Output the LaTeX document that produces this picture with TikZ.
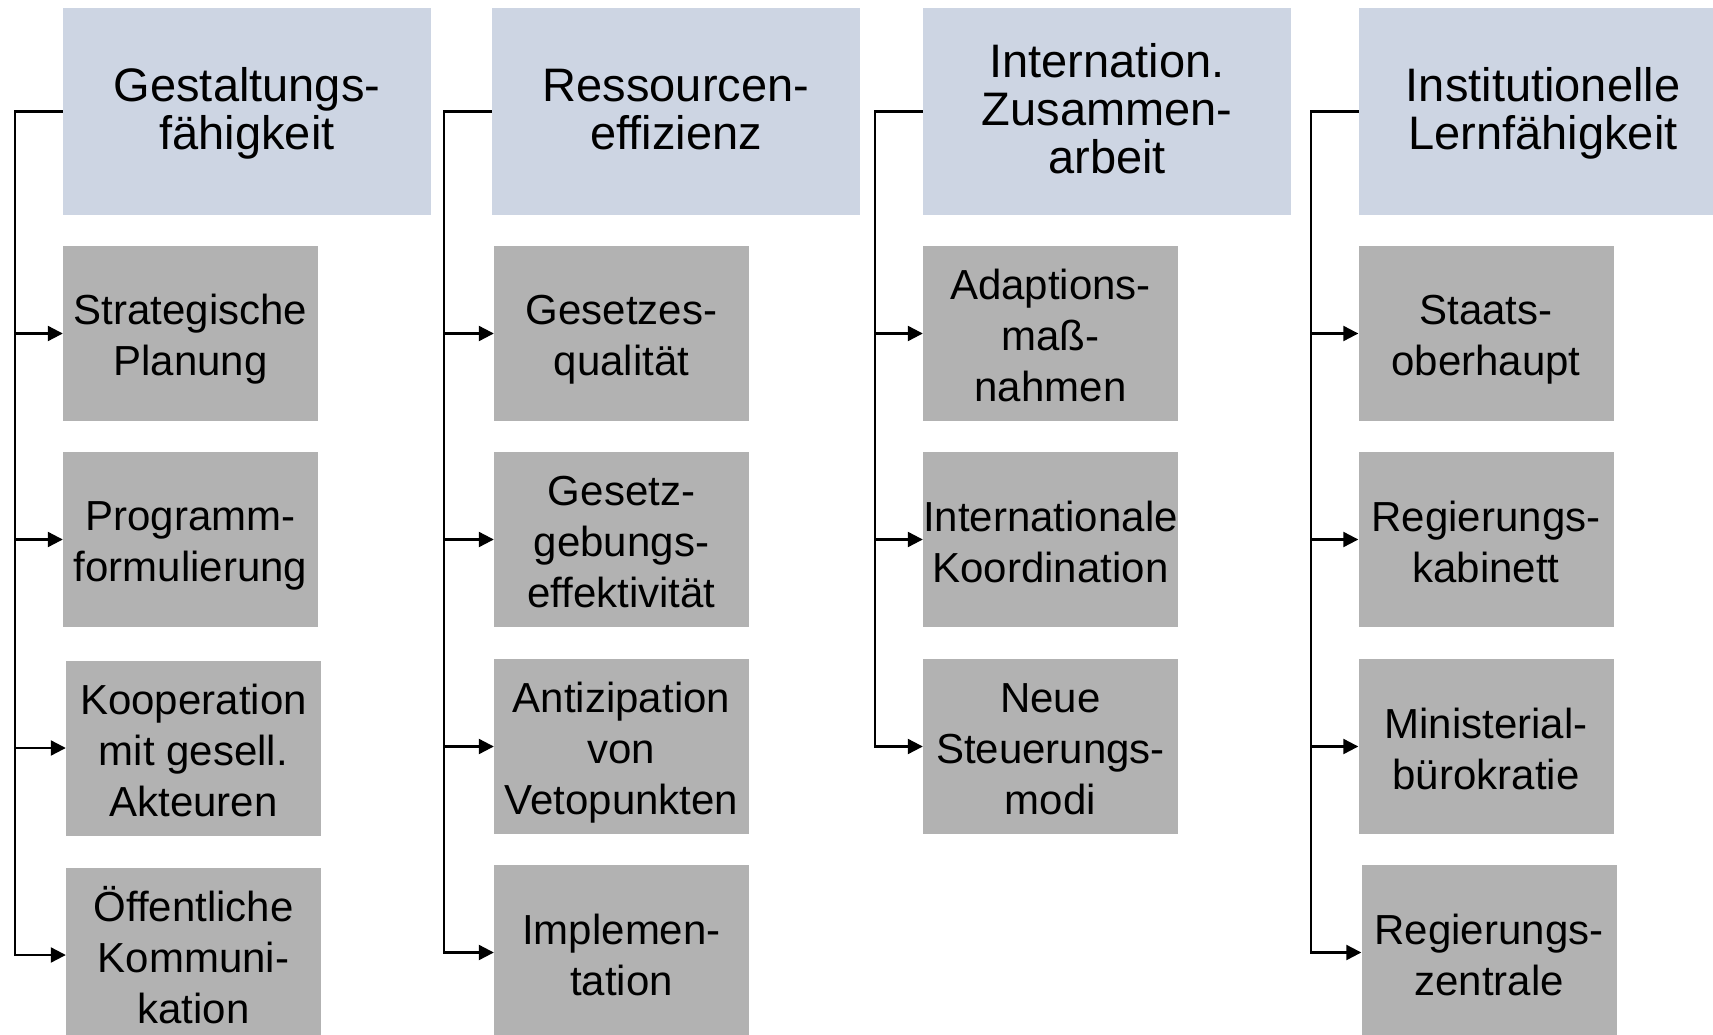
\documentclass[tikz,border=0pt]{standalone}
\usepackage{fontspec}
\setmainfont{Liberation Sans}
\usetikzlibrary{arrows.meta}
\definecolor{hdrblue}{RGB}{205,213,227}
\definecolor{subgray}{RGB}{178,178,178}
\newcommand\HT{\rule{0pt}{38.2pt}}
\newcommand\HB{\rule[-9.8pt]{0pt}{9.8pt}}
\newcommand\ST{\rule{0pt}{42.5pt}}
\newcommand\SB{\rule[-8.5pt]{0pt}{8.5pt}}
\tikzset{
  hdr/.style={rectangle, fill=hdrblue, minimum width=368pt, minimum height=207pt, inner sep=0pt, align=center, font=\fontsize{47}{48}\selectfont, text=black},
  sub/.style={rectangle, fill=subgray, minimum width=255pt, minimum height=175pt, inner sep=0pt, align=center, font=\fontsize{42}{51}\selectfont, text=black},
  conn/.style={draw=black, line width=2.2pt},
  arr/.style={conn, -{Triangle[length=15pt,width=15pt]}}
}
\begin{document}
\begin{tikzpicture}[x=1pt,y=-1pt]
\useasboundingbox (0,0) rectangle (1713,1035);
% headers
\node[hdr] (h1) at (247,111.5) {\HT Gestaltungs-\\fähigkeit\HB};
\node[hdr] (h2) at (676,111.5) {\HT Ressourcen-\\effizienz\HB};
\node[hdr] (h3) at (1107,111.5) {\HT Internation.\\Zusammen-\\arbeit\HB};
\node[hdr] (h4) at (1543,111.5) {\HT Institutionelle\\Lernfähigkeit\HB};
% column 1
\node[sub] (c11) at (190.5,333.5) {\ST Strategische\\Planung\SB};
\node[sub] (c12) at (190.5,539.5) {\ST Programm-\\formulierung\SB};
\node[sub] (c13) at (193.5,748) {\ST Kooperation\\mit gesell.\\Akteuren\SB};
\node[sub] (c14) at (193.5,955) {\ST Öffentliche\\Kommuni-\\kation\SB};
% column 2
\node[sub] (c21) at (621.5,333.5) {\ST Gesetzes-\\qualität\SB};
\node[sub] (c22) at (621.5,539.5) {\ST Gesetz-\\gebungs-\\effektivität\SB};
\node[sub] (c23) at (621.5,746.5) {\ST Antizipation\\von\\Vetopunkten\SB};
\node[sub] (c24) at (621.5,952.5) {\ST Implemen-\\tation\SB};
% column 3
\node[sub] (c31) at (1050.5,333.5) {\ST Adaptions-\\maß-\\nahmen\SB};
\node[sub] (c32) at (1050.5,539.5) {\ST Internationale\\Koordination\SB};
\node[sub] (c33) at (1050.5,746.5) {\ST Neue\\Steuerungs-\\modi\SB};
% column 4
\node[sub] (c41) at (1486,333.5) {\ST Staats-\\oberhaupt\SB};
\node[sub] (c42) at (1486,539.5) {\ST Regierungs-\\kabinett\SB};
\node[sub] (c43) at (1486,746.5) {\ST Ministerial-\\bürokratie\SB};
\node[sub] (c44) at (1489,952.5) {\ST Regierungs-\\zentrale\SB};
% trunks
\coordinate (t1) at (15,111.5);
\coordinate (t2) at (444,111.5);
\coordinate (t3) at (875,111.5);
\coordinate (t4) at (1311,111.5);
\foreach \c in {c11,c12,c13,c14} \draw[arr] (h1.west) -- (t1) |- (\c.west);
\foreach \c in {c21,c22,c23,c24} \draw[arr] (h2.west) -- (t2) |- (\c.west);
\foreach \c in {c31,c32,c33} \draw[arr] (h3.west) -- (t3) |- (\c.west);
\foreach \c in {c41,c42,c43,c44} \draw[arr] (h4.west) -- (t4) |- (\c.west);
\end{tikzpicture}
\end{document}
